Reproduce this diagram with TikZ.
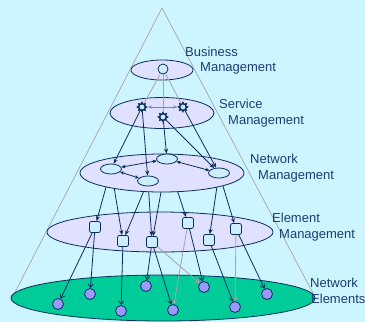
\documentclass[tikz,border=0pt]{standalone}
\usepackage{fontspec}
\setmainfont{Liberation Sans}
\usetikzlibrary{shapes.geometric,arrows.meta}
\definecolor{bgcyan}{RGB}{204,245,255}
\definecolor{lavender}{RGB}{224,224,255}
\definecolor{navy}{RGB}{10,45,95}
\definecolor{textnavy}{RGB}{30,60,115}
\definecolor{negreen}{RGB}{0,204,153}
\definecolor{nepurple}{RGB}{153,153,255}
\definecolor{lightnode}{RGB}{204,238,255}
\definecolor{conegray}{RGB}{165,165,165}
\definecolor{steel}{RGB}{110,140,175}
\pgfdeclarelayer{back}
\pgfdeclarelayer{mid}
\pgfsetlayers{back,mid,main}
\begin{document}
\begin{tikzpicture}[x=1pt,y=-1pt,
	level/.style={ellipse,draw=navy,line width=0.8pt,fill=lavender,inner sep=0pt},
	netnode/.style={ellipse,draw=navy,line width=0.8pt,fill=lightnode,inner sep=0pt,minimum width=21pt,minimum height=10pt},
	svcstar/.style={star,star points=8,star point ratio=1.6,draw=navy,line width=1.3pt,fill=lightnode,inner sep=0pt,minimum size=9pt},
	elmbox/.style={rectangle,rounded corners=2pt,draw=navy,line width=0.8pt,fill=lightnode,inner sep=0pt,minimum size=11pt},
	nedot/.style={circle,draw=navy,line width=0.8pt,fill=nepurple,inner sep=0pt,minimum size=11pt},
	lbl/.style={anchor=base west,inner sep=0pt,text=textnavy,font=\fontsize{13}{15}\selectfont},
	arr/.style={draw=navy,line width=0.8pt,-{Stealth[length=5pt,width=4pt]}},
	arrb/.style={draw=navy,line width=0.8pt,-{Straight Barb[length=3.5pt,width=5pt]}},
	grayarr/.style={draw=conegray,line width=0.8pt,-{Straight Barb[length=3.5pt,width=5pt]}},
	dbl/.style={draw=navy,line width=0.8pt,{Stealth[length=4pt,width=3.5pt]}-{Stealth[length=4pt,width=3.5pt]}}]
	\useasboundingbox (0,0) rectangle (365,322);
	
	% background, cone and lower levels
	\begin{pgfonlayer}{back}
	\fill[bgcyan] (0,0) rectangle (365,322);
	\coordinate (apex) at (162,8);
	\coordinate (coneL) at (12,298);
	\coordinate (coneR) at (314,295);
	\draw[conegray,line width=0.7pt] (coneL) -- (apex) -- (coneR);
	\node[level,fill=negreen,minimum width=304pt,minimum height=46pt] (ne) at (163,298) {};
	\node[level,minimum width=226pt,minimum height=40pt] (elm) at (160,232) {};
	\end{pgfonlayer}
	
	% levels
	\node[level,minimum width=164pt,minimum height=38pt] (net) at (162,173) {};
	\node[level,minimum width=104pt,minimum height=31pt] (svc) at (162,113) {};
	\node[level,minimum width=62pt,minimum height=20pt] (biz) at (162,70) {};
	
	% labels
	\node[lbl] (lbiz1) at (185,56) {Business};
	\node[lbl] (lbiz2) at (200,71) {Management};
	\node[lbl] (lsvc1) at (219,108) {Service};
	\node[lbl] (lsvc2) at (228,124) {Management};
	\node[lbl] (lnet1) at (250,163) {Network};
	\node[lbl] (lnet2) at (258,179) {Management};
	\node[lbl] (lelm1) at (272,222) {Element};
	\node[lbl] (lelm2) at (279,238) {Management};
	\node[lbl] (lne1) at (310,287) {Network};
	\node[lbl] (lne2) at (311,303) {Elements};
	
	% business
	\node[circle,draw=navy,line width=0.8pt,fill=lightnode,inner sep=0pt,minimum size=10pt] (bc) at (163,69) {};
	
	% service
	\node[svcstar] (s1) at (142,107) {};
	\node[svcstar] (s2) at (183,107) {};
	\node[svcstar] (s3) at (163,117) {};
	\foreach \s in {s1,s2,s3}
		\draw[conegray,line width=0.8pt] (bc) -- (\s);
	\draw[steel,line width=0.8pt,{Stealth[length=4pt,width=3.5pt]}-{Stealth[length=4pt,width=3.5pt]}] (s1) -- (s2);
	
	% network
	\node[netnode] (n1) at (111,169) {};
	\node[netnode] (n2) at (167,159) {};
	\node[netnode] (n3) at (148,181) {};
	\node[netnode] (n4) at (219,173) {};
	\draw[dbl] (n1) -- (n2);
	\draw[dbl] (n1) -- (n3);
	\draw[dbl] (n2) -- (n4);
	\draw[arr] (s1) -- (n1);
	\draw[arr] (s1) -- (n3);
	\draw[arr] (s3) -- (n2);
	\draw[arr] (s3) -- (n4);
	\draw[arr] (s2) -- (n4);
	
	% element
	\node[elmbox] (b1) at (95,227) {};
	\node[elmbox] (b2) at (123,241) {};
	\node[elmbox] (b3) at (152,242) {};
	\node[elmbox] (b4) at (188,223) {};
	\node[elmbox] (b5) at (209,240) {};
	\node[elmbox] (b6) at (236,229) {};
	\begin{pgfonlayer}{mid}
	\draw[arr] (n1) -- (b1);
	\draw[arr] (n1) -- (b2);
	\draw[arr] (n3) -- (b2);
	\draw[arr] (n3) -- (b3);
	\draw[arr] (n2) -- (b3);
	\draw[arr] (n2) -- (b4);
	\draw[arr] (n4) -- (b5);
	\draw[arr] (n4) -- (b6);
	\end{pgfonlayer}
	
	% network elements
	\node[nedot] (c1) at (58,304) {};
	\node[nedot] (c2) at (90,294) {};
	\node[nedot] (c3) at (121,311) {};
	\node[nedot] (c4) at (146,286) {};
	\node[nedot] (c5) at (173,310) {};
	\node[nedot] (c6) at (204,287) {};
	\node[nedot] (c7) at (235,307) {};
	\node[nedot] (c8) at (267,294) {};
	\draw[arrb] (b1) -- (c1);
	\draw[arrb] (b1) -- (c2);
	\draw[arrb] (b2) -- (c3);
	\draw[arrb] (b3) -- (c4);
	\draw[arrb] (b3) -- (c5);
	\draw[grayarr] (b3) -- (c6);
	\draw[grayarr] (b4) -- (c5);
	\draw[arrb] (b4) -- (c6);
	\draw[arrb] (b5) -- (c7);
	\draw[grayarr] (b6) -- (c7);
	\draw[arrb] (b6) -- (c8);
	
\end{tikzpicture}
\end{document}
